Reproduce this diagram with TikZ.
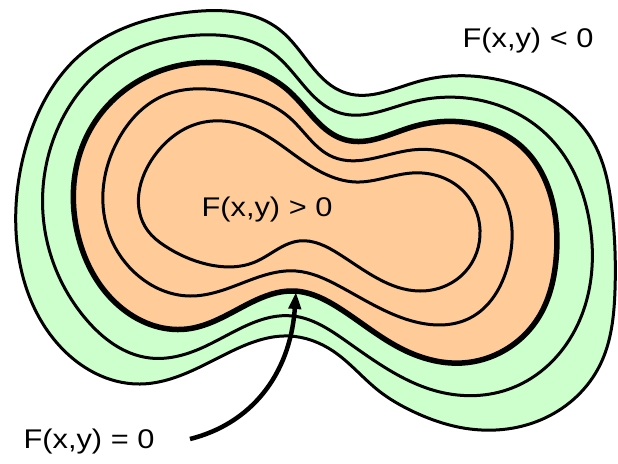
\documentclass[tikz,border=0pt]{standalone}
\usepackage{fontspec}
\usepackage{xcolor}
\usepackage{tikz}
\usetikzlibrary{arrows.meta,hobby}
\newfontfamily\lblfont[FakeStretch=1.14]{Liberation Sans}
\definecolor{negfill}{RGB}{204,255,204}
\definecolor{posfill}{RGB}{255,204,153}

\begin{document}
\begin{tikzpicture}[
    x=1pt, y=-1pt,
    level/.style={draw, line width=3pt, line join=round},
    zero/.style={draw, line width=5.5pt, line join=round},
    lbl/.style={font=\lblfont\fontsize{27}{32}\selectfont, inner sep=0pt},
    arrow/.style={-{Triangle[length=17pt,width=12pt]}, line width=4.5pt}
]
\useasboundingbox (0,0) rectangle (618,463);

% outside: F(x,y) < 0
\path[level, fill=negfill] plot[closed hobby] coordinates {
    (16,231) (28,140) (80,55) (190,12) (280,30) (346,93) (420,81) (500,80)
    (592,140) (612,210) (615,290) (600,365) (545,418) (470,429) (412,411)
    (379,391) (333,351) (289,336) (230,352) (140,384) (57,343)};
\path[level] plot[closed hobby] coordinates {
    (45,231) (55,135) (110,63) (200,35) (273,53) (340,113) (412,102)
    (479,100) (550,138) (590,225) (575,330) (512,388) (440,392) (346,341)
    (293,316) (206,346) (150,358) (85,318)};

% F(x,y) = 0
\path[zero, fill=posfill] plot[closed hobby] coordinates {
    (77,231) (90,130) (150,75) (220,63) (290,92) (346,140) (412,127)
    (470,123) (522,147) (552,200) (556,260) (540,315) (505,350) (462,363)
    (400,348) (339,308) (294,291) (250,303) (187,329) (118,305)};

% inside: F(x,y) > 0
\path[level] plot[closed hobby] coordinates {
    (108,231) (118,140) (165,95) (230,92) (290,118) (333,157) (412,150)
    (470,162) (505,200) (508,265) (470,318) (412,321) (339,286) (296,271)
    (245,282) (190,296) (133,271)};
\path[level] plot[closed hobby] coordinates {
    (148,231) (155,155) (200,123) (256,130) (323,173) (356,182) (412,173)
    (460,188) (480,230) (465,272) (420,291) (339,254) (299,241) (255,262)
    (206,264) (165,246)};

\node[lbl] (neg) at (528,41) {F(x,y) < 0};
\node[lbl] (pos) at (267,210) {F(x,y) > 0};
\node[lbl] (eq) at (89,442) {F(x,y) = 0};

\coordinate (tail) at (190,439);
\coordinate (tip) at (296,292);
\draw[arrow] (tail) .. controls +(60,-15) and +(-6,84) .. (tip);

\end{tikzpicture}
\end{document}
